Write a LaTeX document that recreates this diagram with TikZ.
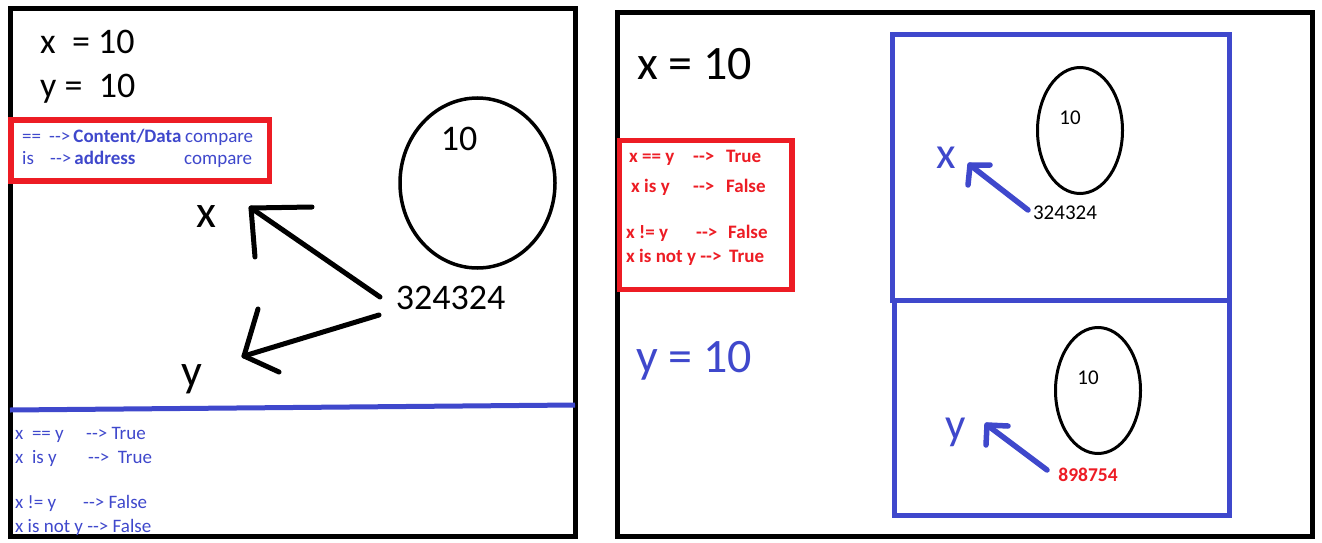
\documentclass[tikz,border=0pt]{standalone}
\usepackage{fontspec}
\setmainfont{Carlito}[Ligatures=TeXOff]
\usetikzlibrary{shapes.geometric}
\definecolor{pblue}{HTML}{3F48CC}
\definecolor{pred}{HTML}{ED1C24}
\tikzset{
  txt/.style={inner sep=0pt, anchor=base west},
  lbl/.style={inner sep=0pt, anchor=base},
  fs/.style={font=\fontsize{#1}{#1}\selectfont},
  bfs/.style={font=\fontsize{#1}{#1}\selectfont\bfseries},
  frame/.style={line width=5},
  pen/.style={line width=5, line cap=round, line join=round},
  cell/.style={draw, ellipse, line width=3.5, inner sep=0pt}
}

\begin{document}
\begin{tikzpicture}[x=1pt,y=-1pt]
\useasboundingbox (0,0) rectangle (1322,543);
\fill[white] (0,0) rectangle (1322,543);

% left panel
\draw[frame] (10,9) rectangle (575,536.5);
\node[txt,fs=36] (xeqL) at (40,53) {x\ \ = 10};
\node[txt,fs=36] (yeqL) at (40,97) {y = \ 10};

\draw[pred,line width=5.5] (11,120) rectangle (269.5,181);
\node[txt,fs=19,pblue] (eqop) at (22,142) {==};
\node[txt,fs=19,pblue] (eqto) at (49,142) {-->\,\textbf{Content/Data}};
\node[txt,fs=19,pblue] (eqcmp) at (185,142) {compare};
\node[txt,fs=19,pblue] (isop) at (22,164) {is};
\node[txt,fs=19,pblue] (isto) at (50,164) {-->\,\textbf{address}};
\node[txt,fs=19,pblue] (iscmp) at (184,164) {compare};

\node[cell,minimum width=155,minimum height=170] (objL) at (477.5,183) {};
\node[fs=36,inner sep=0pt] (valL) at (459,139) {10};
\node[fs=36,inner sep=0pt] (addrL) at (450.5,297.5) {324324};
\node[lbl,fs=46] (varxL) at (206.5,227) {x};
\node[lbl,fs=46] (varyL) at (192,386) {y};

\coordinate (xfromL) at (380,297);
\coordinate (xtipL) at (251,208);
\coordinate (yfromL) at (379,315);
\coordinate (ytipL) at (244,356);
\draw[pen] (xfromL) -- (xtipL);
\draw[pen] (xtipL) ++(61,-1) -- (xtipL) -- ++(4,49);
\draw[pen] (yfromL) -- (ytipL);
\draw[pen] (ytipL) ++(14,-47) -- (ytipL) -- ++(35,16);

\draw[pblue,line width=5] (10,410) -- (575,405);
\node[txt,fs=19,pblue] (l1a) at (15,439) {x\ \ == y};
\node[txt,fs=19,pblue] (l1b) at (86,439) {--> True};
\node[txt,fs=19,pblue] (l2a) at (15,463) {x\ \ is y};
\node[txt,fs=19,pblue] (l2b) at (88,463) {-->\ \ True};
\node[txt,fs=19,pblue] (l3a) at (15,508) {x != y};
\node[txt,fs=19,pblue] (l3b) at (83,508) {--> False};
\node[txt,fs=19,pblue] (l4a) at (15,532) {x is not y --> False};

% right panel
\draw[frame] (617.5,12.5) rectangle (1312.5,536);
\node[txt,fs=48] (xeqR) at (637,79) {x = 10};
\node[txt,fs=48,pblue] (yeqR) at (636,372) {y = 10};

\draw[pred,line width=5.5] (619.5,140.5) rectangle (792,289.5);
\node[txt,bfs=19,pred] (r1a) at (629,162) {x == y};
\node[txt,bfs=19,pred] (r1b) at (693,162) {-->};
\node[txt,bfs=19,pred] (r1c) at (726,162) {True};
\node[txt,bfs=19,pred] (r2a) at (631,192) {x is y};
\node[txt,bfs=19,pred] (r2b) at (693,192) {-->};
\node[txt,bfs=19,pred] (r2c) at (726,192) {False};
\node[txt,bfs=19,pred] (r3a) at (626,238) {x != y};
\node[txt,bfs=19,pred] (r3b) at (696,238) {-->};
\node[txt,bfs=19,pred] (r3c) at (728,238) {False};
\node[txt,bfs=19,pred] (r4a) at (626,262) {x is not y -->};
\node[txt,bfs=19,pred] (r4c) at (729,262) {True};

\draw[pblue,line width=5] (892.5,34.5) rectangle (1229,300.5);
\draw[pblue,line width=5] (894,300.5) rectangle (1229,515);

\node[cell,line width=3,minimum width=85,minimum height=126] (objX) at (1080,130.5) {};
\node[fs=21,inner sep=0pt] (valX) at (1070,117.5) {10};
\node[fs=21,inner sep=0pt] (addrX) at (1065,212.5) {324324};
\node[lbl,fs=45,pblue] (varxR) at (946,168) {x};
\coordinate (xfromR) at (1028,210);
\coordinate (xtipR) at (970,165);
\draw[pen,pblue,line width=5.5] (xfromR) -- (xtipR);
\draw[pen,pblue,line width=5.5] (xtipR) ++(20,0) -- (xtipR) -- ++(-2,20);

\node[cell,line width=3,minimum width=85,minimum height=126] (objY) at (1098,390.5) {};
\node[fs=21,inner sep=0pt] (valY) at (1088,377.5) {10};
\node[bfs=19.5,inner sep=0pt,pred] (addrY) at (1088,475) {898754};
\node[lbl,fs=45,pblue] (varyR) at (956,439) {y};
\coordinate (yfromR) at (1047,470);
\coordinate (ytipR) at (987,425);
\draw[pen,pblue,line width=5.5] (yfromR) -- (ytipR);
\draw[pen,pblue,line width=5.5] (ytipR) ++(21,1) -- (ytipR) -- ++(-1,20);
\end{tikzpicture}
\end{document}
